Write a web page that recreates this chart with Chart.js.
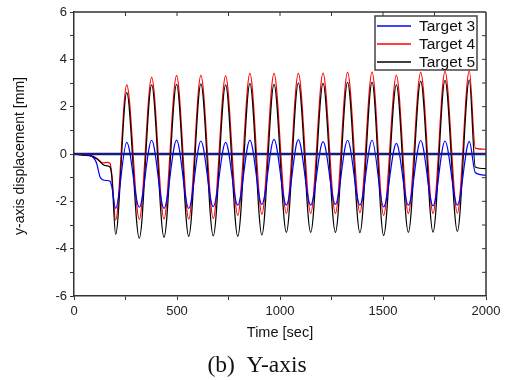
<!DOCTYPE html>
<html>
<head>
<meta charset="utf-8">
<script src="https://cdn.jsdelivr.net/npm/chart.js@4.4.1/dist/chart.umd.min.js"></script>
<style>
  html, body { margin: 0; padding: 0; background: #fff; }
  #plot { display: block; }
</style>
</head>
<body>
<canvas id="plot" width="508" height="380"></canvas>
<script>
// time of each peak / trough of the cycling load [sec]
var peakTimes   = [256, 377, 498, 616, 736, 854, 971, 1089, 1209, 1328, 1447, 1565, 1683, 1801, 1919];
var troughTimes = [202, 317, 437, 557, 676, 795, 912, 1031, 1149, 1269, 1388, 1503, 1623, 1743, 1861];

// Target 3 (blue)
var t3Peaks   = [0.49, 0.58, 0.59, 0.55, 0.49, 0.59, 0.62, 0.61, 0.52, 0.58, 0.58, 0.45, 0.57, 0.55, 0.53];
var t3Troughs = [-2.30, -2.25, -2.30, -2.30, -2.22, -2.16, -2.13, -2.16, -2.16, -2.13, -2.16, -2.24, -2.16, -2.19, -2.16];
// Target 4 (red)
var t4Peaks   = [2.92, 3.24, 3.31, 3.32, 3.30, 3.41, 3.41, 3.41, 3.42, 3.45, 3.46, 3.32, 3.45, 3.49, 3.52];
var t4Troughs = [-2.79, -2.76, -2.75, -2.75, -2.72, -2.59, -2.54, -2.51, -2.51, -2.51, -2.48, -2.59, -2.51, -2.51, -2.50];
// Target 5 (black)
var t5Peaks   = [2.59, 2.92, 2.94, 2.96, 2.92, 2.98, 2.94, 3.00, 2.98, 3.03, 3.04, 2.92, 3.08, 3.11, 3.13];
var t5Troughs = [-3.39, -3.56, -3.52, -3.48, -3.46, -3.48, -3.42, -3.31, -3.31, -3.31, -3.32, -3.44, -3.31, -3.30, -3.27];

// drift before the cycling starts
var startTimes = [0, 40, 87, 110, 126, 142, 160, 175, 184];
var t3Start = [0, -0.02, -0.10, -0.40, -0.96, -1.10, -1.12, -1.15, -1.40];
var t4Start = [0, -0.03, -0.08, -0.18, -0.30, -0.38, -0.35, -0.40, -0.90];
var t5Start = [0, -0.05, -0.10, -0.20, -0.32, -0.45, -0.50, -0.55, -1.00];

// after the last cycle
var endTimes = [1948, 2000];
var t3End = [-0.78, -0.90];
var t4End = [0.25, 0.20];
var t5End = [-0.55, -0.62];

var xTicksMajor = [0, 500, 1000, 1500, 2000];
var yTicksMajor = [-6, -4, -2, 0, 2, 4, 6];
var legendNames = ['Target 3', 'Target 4', 'Target 5'];

function buildSeries(startV, peaks, troughs, endV) {
    var pts = [];
    for (var i = 0; i < startTimes.length; i++) pts.push({x: startTimes[i], y: startV[i]});
    for (var i = 0; i < peakTimes.length; i++) {
        pts.push({x: troughTimes[i], y: troughs[i]});
        pts.push({x: peakTimes[i], y: peaks[i]});
    }
    for (var i = 0; i < endTimes.length; i++) pts.push({x: endTimes[i], y: endV[i]});
    return pts;
}

var colors = ['#0000ff', '#ff0000', '#000000'];
var axisColor = '#333333';
var sansFont = "'Liberation Sans', Arial, sans-serif";

var framePlugin = {
    id: 'frame',
    afterDraw: function (chart) {
        var ctx = chart.ctx;
        var a = chart.chartArea;
        var xs = chart.scales.x, ys = chart.scales.y;
        ctx.save();
        ctx.strokeStyle = axisColor;
        ctx.lineWidth = 1.5;
        ctx.beginPath();
        ctx.moveTo(a.left, a.top); ctx.lineTo(a.right, a.top);
        ctx.moveTo(a.right, a.top); ctx.lineTo(a.right, a.bottom);
        ctx.stroke();
        // inward ticks on top and right
        ctx.lineWidth = 1;
        ctx.beginPath();
        for (var v = 250; v < 2000; v += 250) {
            var px = xs.getPixelForValue(v);
            ctx.moveTo(px, a.top); ctx.lineTo(px, a.top + 4);
        }
        for (var v = -5; v <= 5; v++) {
            var py = ys.getPixelForValue(v);
            ctx.moveTo(a.right, py); ctx.lineTo(a.right - 4, py);
        }
        ctx.stroke();

        // legend box
        var lx = 375, ly = 16, lw = 102, lh = 54;
        ctx.fillStyle = '#fff';
        ctx.fillRect(lx, ly, lw, lh);
        ctx.strokeStyle = '#444';
        ctx.lineWidth = 1.5;
        ctx.strokeRect(lx, ly, lw, lh);
        ctx.font = '15.5px ' + sansFont;
        ctx.textBaseline = 'middle';
        ctx.textAlign = 'left';
        for (var i = 0; i < legendNames.length; i++) {
            var yy = ly + 10 + i * 18;
            ctx.strokeStyle = colors[i];
            ctx.lineWidth = 1.3;
            ctx.beginPath();
            ctx.moveTo(lx + 2, yy); ctx.lineTo(lx + 36, yy);
            ctx.stroke();
            ctx.fillStyle = '#111';
            ctx.fillText(legendNames[i], lx + 44, yy + 1);
        }

        // axis titles and caption
        ctx.fillStyle = '#111';
        ctx.textAlign = 'center';
        ctx.font = '14.5px ' + sansFont;
        ctx.fillText('Time [sec]', 280, 333);
        ctx.save();
        ctx.translate(20, 156);
        ctx.rotate(-Math.PI / 2);
        ctx.font = '14px ' + sansFont;
        ctx.fillText('y-axis displacement [mm]', 0, 0);
        ctx.restore();
        ctx.font = "23.5px 'Liberation Serif', 'Times New Roman', serif";
        ctx.fillText('(b)  Y-axis', 257, 366);
        ctx.restore();
    }
};

var datasets = [
    {data: [{x: 0, y: 0}, {x: 2000, y: 0}], borderColor: '#1a1a7c', borderWidth: 2.4},
    {data: buildSeries(t3Start, t3Peaks, t3Troughs, t3End), borderColor: colors[0], borderWidth: 1.2, cubicInterpolationMode: 'monotone'},
    {data: buildSeries(t5Start, t5Peaks, t5Troughs, t5End), borderColor: colors[2], borderWidth: 1.2, cubicInterpolationMode: 'monotone'},
    {data: buildSeries(t4Start, t4Peaks, t4Troughs, t4End), borderColor: colors[1], borderWidth: 1.2, cubicInterpolationMode: 'monotone'}
];

new Chart(document.getElementById('plot'), {
    type: 'line',
    data: {datasets: datasets},
    options: {
        responsive: false,
        animation: false,
        events: [],
        elements: {point: {radius: 0}, line: {fill: false}},
        layout: {padding: {left: 0, top: 12, right: 22, bottom: 0}},
        plugins: {legend: {display: false}, tooltip: {enabled: false}},
        scales: {
            x: {
                type: 'linear', min: 0, max: 2000,
                afterFit: function (s) { s.height = 84; },
                afterBuildTicks: function (s) {
                    var t = [];
                    for (var v = 0; v <= 2000; v += 250) t.push({value: v});
                    s.ticks = t;
                },
                ticks: {
                    autoSkip: false, maxRotation: 0, padding: 4, color: '#222',
                    font: {family: sansFont, size: 13},
                    callback: function (v) { return xTicksMajor.indexOf(v) >= 0 ? String(v) : ''; }
                },
                grid: {drawOnChartArea: false, tickLength: 4, color: axisColor},
                border: {color: axisColor, width: 1.5}
            },
            y: {
                min: -6, max: 6,
                afterFit: function (s) { s.width = 74; },
                afterBuildTicks: function (s) {
                    var t = [];
                    for (var v = -6; v <= 6; v++) t.push({value: v});
                    s.ticks = t;
                },
                ticks: {
                    autoSkip: false, padding: 3, color: '#222',
                    font: {family: sansFont, size: 13},
                    callback: function (v) { return yTicksMajor.indexOf(v) >= 0 ? String(v) : ''; }
                },
                grid: {drawOnChartArea: false, tickLength: 4, color: axisColor},
                border: {color: axisColor, width: 1.5}
            }
        }
    },
    plugins: [framePlugin]
});
</script>
</body>
</html>
